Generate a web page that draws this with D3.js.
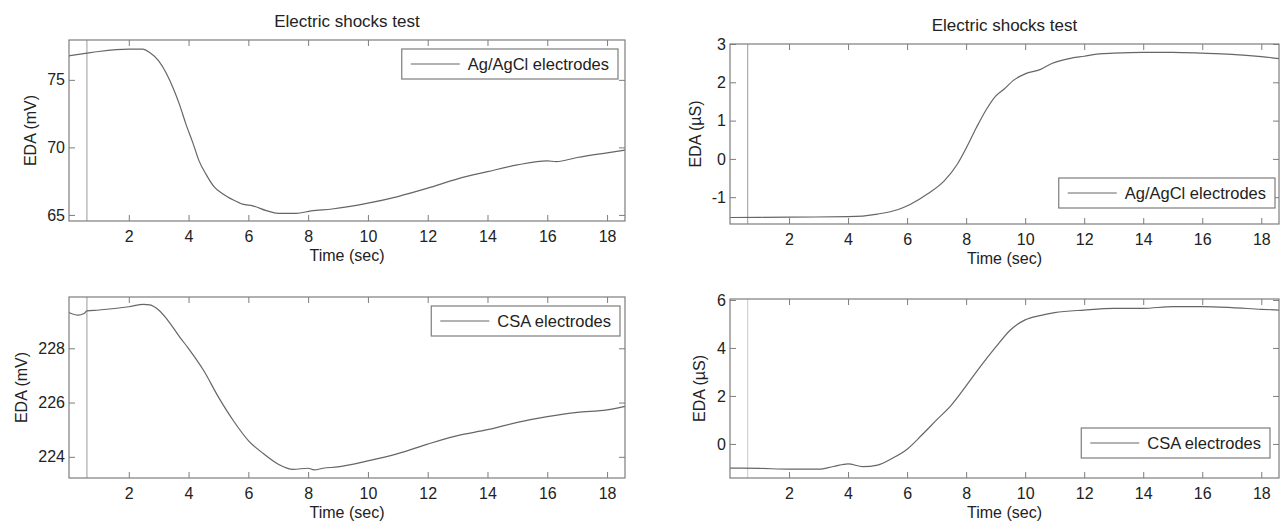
<!DOCTYPE html>
<html>
<head>
<meta charset="utf-8">
<script src="https://cdn.jsdelivr.net/npm/d3@7"></script>
<style>
  html, body { margin: 0; padding: 0; background: #fff; }
  svg { display: block; font-family: "Liberation Sans", Arial, Helvetica, sans-serif; }
</style>
</head>
<body>
<svg id="chart" width="1283" height="522"></svg>
<script>
// ---------------- DATA ----------------
const chartTitle = "Electric shocks test";
const xLabel = "Time (sec)";
const xTicks = [2, 4, 6, 8, 10, 12, 14, 16, 18];
const xDomain = [0, 18.6];
const markerTime = 0.6;

// Top-left: Ag/AgCl electrodes, EDA (mV)
const agMvTime   = [0, 0.6, 1, 2, 2.47, 2.7, 3, 3.25, 3.5, 3.7, 3.9, 4.15, 4.35, 4.6, 4.85, 5.15, 5.5, 5.8, 6.15, 6.6, 7, 7.6, 8.1, 8.8, 10, 11, 12, 13, 14, 15, 16, 16.3, 17, 18, 18.6];
const agMvValues = [76.78, 76.98, 77.1, 77.27, 77.27, 77.02, 76.4, 75.5, 74.3, 73.15, 71.8, 70.3, 69.0, 67.95, 67.1, 66.55, 66.1, 65.8, 65.67, 65.32, 65.12, 65.12, 65.3, 65.44, 65.87, 66.36, 66.98, 67.67, 68.2, 68.7, 69.0, 68.95, 69.25, 69.6, 69.8];
const agMvTicks  = [65, 70, 75];

// Top-right: Ag/AgCl electrodes, EDA (µS)
const agUsTime   = [0, 2, 4, 5, 5.7, 6.1, 6.7, 7.25, 7.7, 8, 8.35, 8.7, 9, 9.3, 9.6, 10, 10.5, 10.9, 11.5, 12, 12.5, 13, 14, 15, 16, 17, 18, 18.6];
const agUsValues = [-1.53, -1.52, -1.51, -1.44, -1.32, -1.19, -0.91, -0.58, -0.14, 0.28, 0.82, 1.31, 1.64, 1.83, 2.05, 2.22, 2.33, 2.49, 2.62, 2.68, 2.74, 2.76, 2.78, 2.78, 2.76, 2.73, 2.67, 2.62];
const agUsTicks  = [-1, 0, 1, 2, 3];

// Bottom-left: CSA electrodes, EDA (mV)
const csaMvTime   = [0, 0.3, 0.5, 0.6, 1, 2, 2.5, 2.7, 3, 3.3, 3.7, 4, 4.5, 5, 5.5, 6, 6.5, 7, 7.5, 8, 8.2, 8.5, 9, 10, 11, 12, 13, 14, 15, 16, 17, 18, 18.6];
const csaMvValues = [229.32, 229.22, 229.28, 229.38, 229.41, 229.53, 229.62, 229.6, 229.41, 229.04, 228.42, 227.99, 227.19, 226.2, 225.33, 224.6, 224.12, 223.73, 223.54, 223.58, 223.52, 223.58, 223.63, 223.85, 224.12, 224.47, 224.78, 225.0, 225.27, 225.48, 225.64, 225.73, 225.86];
const csaMvTicks  = [224, 226, 228];

// Bottom-right: CSA electrodes, EDA (µS)
const csaUsTime   = [0, 1, 2, 3, 3.5, 4, 4.5, 5, 5.5, 6, 6.5, 7, 7.5, 8, 8.5, 9, 9.5, 10, 10.5, 11, 12, 13, 14, 15, 16, 17, 18, 18.6];
const csaUsValues = [-1.01, -1.02, -1.05, -1.05, -0.94, -0.83, -0.95, -0.88, -0.6, -0.22, 0.37, 1.0, 1.62, 2.42, 3.25, 4.03, 4.75, 5.17, 5.35, 5.47, 5.58, 5.65, 5.65, 5.72, 5.72, 5.68, 5.61, 5.58];
const csaUsTicks  = [0, 2, 4, 6];

// ---------------- LAYOUT ----------------
const panels = [
  { left: 69, right: 625, top: 40, bottom: 221, yDomain: [64.55, 77.95], time: agMvTime, values: agMvValues, yTicks: agMvTicks,
    yLabel: "EDA (mV)", yLabelGap: 33, legend: "Ag/AgCl electrodes", legRight: 618, legTop: 49, title: true, markerColor: "#9a9a9a" },
  { left: 730, right: 1279, top: 44, bottom: 224, yDomain: [-1.7, 3.0], time: agUsTime, values: agUsValues, yTicks: agUsTicks,
    yLabel: "EDA (\u00b5S)", yLabelGap: 29, legend: "Ag/AgCl electrodes", legRight: 1275, legTop: 178, title: true, markerColor: "#9a9a9a" },
  { left: 69, right: 625, top: 297, bottom: 478, yDomain: [223.22, 229.89], time: csaMvTime, values: csaMvValues, yTicks: csaMvTicks,
    yLabel: "EDA (mV)", yLabelGap: 42, legend: "CSA electrodes", legRight: 620, legTop: 306, title: false, markerColor: "#9a9a9a" },
  { left: 730, right: 1279, top: 299, bottom: 478, yDomain: [-1.42, 6.04], time: csaUsTime, values: csaUsValues, yTicks: csaUsTicks,
    yLabel: "EDA (\u00b5S)", yLabelGap: 25, legend: "CSA electrodes", legRight: 1270, legTop: 428, title: false, markerColor: "#c8c8c8" }
];

const axisColor = "#7d7d7d";
const lineColor = "#666";
const textColor = "#222";
const tickLen = 6;
const fontSize = 16;
const numFmt = d => String(d);

const svg = d3.select("#chart");
svg.append("rect").attr("width", 1283).attr("height", 522).attr("fill", "#fff");

panels.forEach(p => {
  const x = d3.scaleLinear().domain(xDomain).range([p.left, p.right]);
  const y = d3.scaleLinear().domain(p.yDomain).range([p.bottom, p.top]);
  const g = svg.append("g");

  // marker vertical line
  g.append("line")
    .attr("x1", x(markerTime)).attr("x2", x(markerTime))
    .attr("y1", p.top).attr("y2", p.bottom)
    .attr("stroke", p.markerColor).attr("stroke-width", 1);

  // data line
  const pts = p.time.map((t, i) => [t, p.values[i]]);
  g.append("path")
    .datum(pts)
    .attr("fill", "none")
    .attr("stroke", lineColor)
    .attr("stroke-width", 1.2)
    .attr("d", d3.line().x(d => x(d[0])).y(d => y(d[1])).curve(d3.curveMonotoneX));

  const styleAxis = sel => {
    sel.select(".domain").remove();
    sel.selectAll(".tick line").attr("stroke", axisColor);
    sel.selectAll(".tick text").attr("fill", textColor).style("font-size", fontSize + "px");
  };

  // bottom axis
  g.append("g").attr("transform", `translate(0,${p.bottom})`)
    .call(d3.axisBottom(x).tickValues(xTicks).tickSize(-tickLen).tickPadding(9.5).tickFormat(numFmt))
    .call(styleAxis);
  // top axis (ticks only)
  g.append("g").attr("transform", `translate(0,${p.top})`)
    .call(d3.axisTop(x).tickValues(xTicks).tickSize(-tickLen).tickFormat(""))
    .call(styleAxis);
  // left axis
  g.append("g").attr("transform", `translate(${p.left},0)`)
    .call(d3.axisLeft(y).tickValues(p.yTicks).tickSize(-tickLen).tickPadding(4).tickFormat(numFmt))
    .call(styleAxis);
  // right axis (ticks only)
  g.append("g").attr("transform", `translate(${p.right},0)`)
    .call(d3.axisRight(y).tickValues(p.yTicks).tickSize(-tickLen).tickFormat(""))
    .call(styleAxis);

  // box
  g.append("rect")
    .attr("x", p.left).attr("y", p.top)
    .attr("width", p.right - p.left).attr("height", p.bottom - p.top)
    .attr("fill", "none").attr("stroke", axisColor).attr("stroke-width", 1.2);

  // x label
  g.append("text")
    .attr("x", (p.left + p.right) / 2).attr("y", p.bottom + 40)
    .attr("text-anchor", "middle").attr("fill", textColor)
    .style("font-size", fontSize + "px")
    .text(xLabel);

  // y label
  g.append("text")
    .attr("transform", `translate(${p.left - p.yLabelGap},${(p.top + p.bottom) / 2}) rotate(-90)`)
    .attr("text-anchor", "middle").attr("fill", textColor)
    .style("font-size", fontSize + "px")
    .text(p.yLabel);

  // title
  if (p.title) {
    g.append("text")
      .attr("x", (p.left + p.right) / 2).attr("y", p.top - 13.5)
      .attr("text-anchor", "middle").attr("fill", textColor)
      .style("font-size", "17px")
      .text(chartTitle);
  }

  // legend
  const lg = g.append("g");
  const box = lg.append("rect");
  const txt = lg.append("text")
    .attr("fill", textColor).style("font-size", "16.5px")
    .text(p.legend);
  const tw = txt.node().getComputedTextLength();
  const padL = 9, sampleLen = 49, gap = 8, padR = 9, boxH = 30;
  const boxW = padL + sampleLen + gap + tw + padR;
  const bx = p.legRight - boxW, by = p.legTop;
  box.attr("x", bx).attr("y", by).attr("width", boxW).attr("height", boxH)
    .attr("fill", "#fff").attr("stroke", axisColor).attr("stroke-width", 1.2);
  lg.append("line")
    .attr("x1", bx + padL).attr("x2", bx + padL + sampleLen)
    .attr("y1", by + boxH / 2).attr("y2", by + boxH / 2)
    .attr("stroke", lineColor).attr("stroke-width", 1.2);
  txt.attr("x", bx + padL + sampleLen + gap).attr("y", by + 20.5);
});
</script>
</body>
</html>
